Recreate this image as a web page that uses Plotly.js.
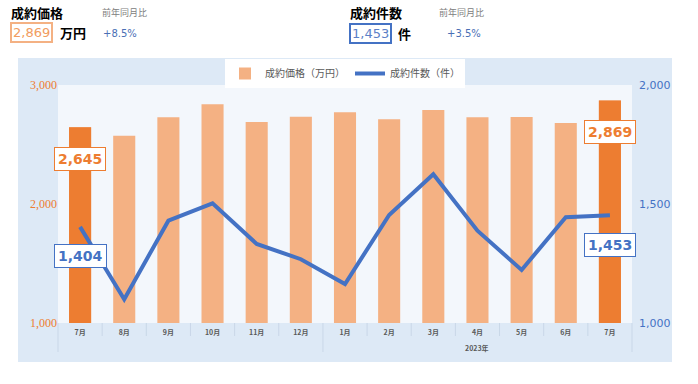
<!DOCTYPE html>
<html>
<head>
<meta charset="utf-8">
<script src="https://cdn.plot.ly/plotly-3.0.1.min.js"></script>
<style>html,body{margin:0;padding:0;background:#fff;}#chart{width:698px;height:384px;}</style>
</head>
<body>
<div id="chart"></div>
<script>
const months = ['7月','8月','9月','10月','11月','12月','1月','2月','3月','4月','5月','6月','7月'];
const years = ['2022','2022','2022','2022','2022','2022','2023','2023','2023','2023','2023','2023','2023'];
const groupLabel = '2023年';
const price = [2645,2574,2729,2838,2689,2734,2771,2712,2790,2729,2731,2681,2869];
const count = [1404,1100,1430,1503,1332,1268,1164,1454,1625,1388,1223,1444,1453];
const priceName = '成約価格（万円）';
const countName = '成約件数（件）';
const latestPrice = '2,869';
const latestCount = '1,453';
const priceYoY = '+8.5%';
const countYoY = '+3.5%';

const W = 698, H = 384;
const L = 58, R = 632, T = 85, B = 323;
const px = x => (x - L) / (R - L);
const py = y => (B - y) / (B - T);

const ORANGE = '#ed7d31', ORANGE_L = '#f4b183', BLUE = '#4472c4';
const JP = '"Noto Sans CJK JP", "Noto Sans", sans-serif';
const NUM = '"DejaVu Sans", Verdana, sans-serif';

const keys = months.map((m, i) => years[i] + '-' + m);
const n = months.length;
const last = n - 1;
const hi = [0, last];

const traces = [
  {type: 'bar', x: keys, y: price, name: priceName,
   marker: {color: ORANGE_L}, hoverinfo: 'skip'},
  {type: 'bar', x: hi.map(i => keys[i]), y: hi.map(i => price[i]), name: priceName,
   marker: {color: ORANGE}, showlegend: false, hoverinfo: 'skip'},
  {type: 'scatter', mode: 'lines', x: keys, y: count, name: countName,
   yaxis: 'y2', line: {color: BLUE, width: 4}, hoverinfo: 'skip'}
];

const boxLabel = (i, val, yref, shift, color) => ({
  xref: 'paper', yref: yref, x: (i + 0.5) / n, y: val, yshift: shift,
  xanchor: 'center', yanchor: 'middle',
  text: val.toLocaleString('en-US'), showarrow: false,
  font: {family: NUM, size: 14, color: color, weight: 'bold'},
  bgcolor: '#ffffff', bordercolor: color, borderwidth: 1, borderpad: 3
});

const gStart = years.indexOf('2023');
const annotations = [
  boxLabel(0, price[0], 'y', -32, ORANGE),
  boxLabel(last, price[last], 'y', -31, ORANGE),
  boxLabel(0, count[0], 'y2', -29, BLUE),
  boxLabel(last, count[last], 'y2', -30, BLUE),
  {xref:'paper', yref:'paper', x: (gStart + n) / 2 / n, y: py(348), xanchor:'center', yanchor:'middle',
   showarrow:false, text: groupLabel, font:{family: JP, size: 7, color:'#595959', weight:'bold'}},
  // header left
  {xref:'paper', yref:'paper', x: px(9), y: py(12), xanchor:'left', yanchor:'middle', showarrow:false,
   text:'<b>成約価格</b>', font:{family: JP, size: 13, color:'#000'}},
  {xref:'paper', yref:'paper', x: px(100), y: py(12), xanchor:'left', yanchor:'middle', showarrow:false,
   text:'前年同月比', font:{family: JP, size: 9, color:'#808080'}},
  {xref:'paper', yref:'paper', x: px(31), y: py(32.5), xanchor:'center', yanchor:'middle', showarrow:false,
   text: latestPrice, font:{family: NUM, size: 13, color:'#f19c60'},
   bordercolor: ORANGE_L, borderwidth: 2, borderpad: 1, bgcolor:'#fff'},
  {xref:'paper', yref:'paper', x: px(58), y: py(32.5), xanchor:'left', yanchor:'middle', showarrow:false,
   text:'<b>万円</b>', font:{family: JP, size: 13, color:'#000'}},
  {xref:'paper', yref:'paper', x: px(101), y: py(33), xanchor:'left', yanchor:'middle', showarrow:false,
   text: priceYoY, font:{family: NUM, size: 10, color:'#4a6fb5'}},
  // header right
  {xref:'paper', yref:'paper', x: px(348), y: py(12), xanchor:'left', yanchor:'middle', showarrow:false,
   text:'<b>成約件数</b>', font:{family: JP, size: 13, color:'#000'}},
  {xref:'paper', yref:'paper', x: px(437), y: py(12), xanchor:'left', yanchor:'middle', showarrow:false,
   text:'前年同月比', font:{family: JP, size: 9, color:'#808080'}},
  {xref:'paper', yref:'paper', x: px(370), y: py(33), xanchor:'center', yanchor:'middle', showarrow:false,
   text: latestCount, font:{family: NUM, size: 13, color:'#5b7fc7'},
   bordercolor: BLUE, borderwidth: 2, borderpad: 1, bgcolor:'#fff'},
  {xref:'paper', yref:'paper', x: px(396), y: py(33), xanchor:'left', yanchor:'middle', showarrow:false,
   text:'<b>件</b>', font:{family: JP, size: 13, color:'#000'}},
  {xref:'paper', yref:'paper', x: px(445), y: py(33), xanchor:'left', yanchor:'middle', showarrow:false,
   text: countYoY, font:{family: NUM, size: 10, color:'#4a6fb5'}}
];

const DIV = '#c9d7e8';
const shapes = [
  {type:'rect', xref:'paper', yref:'paper', x0: px(18), x1: px(672), y0: py(362), y1: py(58),
   fillcolor:'#dde9f6', line:{width:0}, layer:'below'},
  {type:'rect', xref:'paper', yref:'paper', x0: 0, x1: 1, y0: 0, y1: 1,
   fillcolor:'#f3f7fc', line:{width:0}, layer:'below'}
];
for (let i = 0; i <= n; i++) {
  const isGroupEdge = (i === 0 || i === gStart || i === n);
  shapes.push({type:'line', xref:'paper', yref:'paper', x0: i / n, x1: i / n, y0: 0,
               y1: py(isGroupEdge ? 352 : 336), line:{color: DIV, width: 1}, layer:'below'});
}

const layout = {
  width: W, height: H,
  margin: {l: L, r: W - R, t: T, b: H - B, pad: 0},
  paper_bgcolor: '#ffffff', plot_bgcolor: 'rgba(0,0,0,0)',
  barmode: 'overlay', bargap: 0.5,
  showlegend: true,
  legend: {orientation: 'h', x: 0.5, xanchor: 'center', y: py(59), yanchor: 'top',
           bgcolor: '#ffffff', font: {family: JP, size: 10, color: '#595959'}, traceorder: 'normal'},
  xaxis: {type: 'category', tickvals: keys, ticktext: months, showgrid: false, zeroline: false, showline: false,
          ticks: '', ticklabelstandoff: 4,
          tickfont: {family: JP, size: 7, color: '#595959', weight: 'bold'}},
  yaxis: {range: [1000, 3000], dtick: 1000, tickformat: ',', showgrid: false, zeroline: false,
          showline: false, ticks: '', tickfont: {family: '"Liberation Serif", serif', size: 12, color: ORANGE}},
  yaxis2: {range: [1000, 2000], dtick: 500, tickformat: ',', overlaying: 'y', side: 'right',
           showgrid: false, zeroline: false, showline: false, ticks: '', ticklabelstandoff: 6,
           tickfont: {family: NUM, size: 11, color: BLUE}},
  annotations: annotations,
  shapes: shapes
};

Plotly.newPlot('chart', traces, layout, {displayModeBar: false, staticPlot: true});
</script>
</body>
</html>
